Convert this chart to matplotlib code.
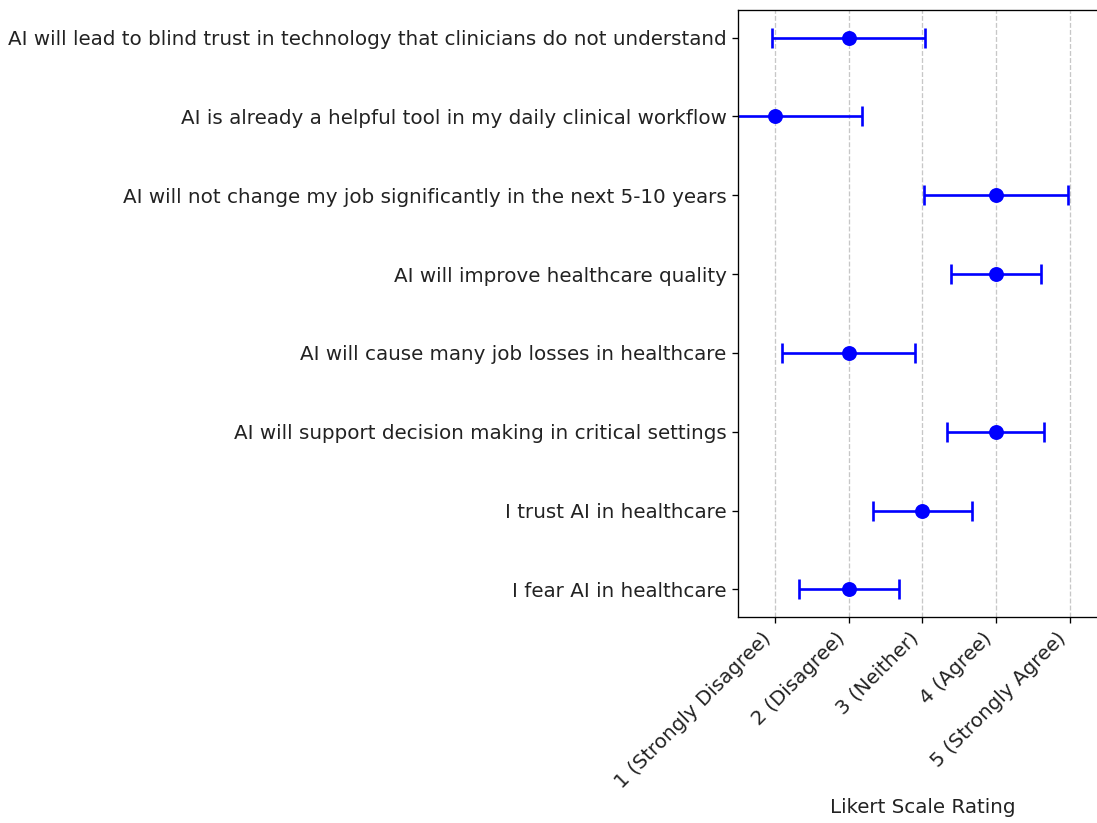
import matplotlib
matplotlib.use("Agg")
import matplotlib.pyplot as plt

statements = [
    "I fear AI in healthcare",
    "I trust AI in healthcare",
    "AI will support decision making in critical settings",
    "AI will cause many job losses in healthcare",
    "AI will improve healthcare quality",
    "AI will not change my job significantly in the next 5-10 years",
    "AI is already a helpful tool in my daily clinical workflow",
    "AI will lead to blind trust in technology that clinicians do not understand",
]
medians = [2, 3, 4, 2, 4, 4, 1, 2]
errors = [0.68, 0.67, 0.66, 0.90, 0.61, 0.98, 1.18, 1.04]
tick_values = [1, 2, 3, 4, 5]
tick_labels = ["1 (Strongly Disagree)", "2 (Disagree)", "3 (Neither)", "4 (Agree)", "5 (Strongly Agree)"]

W, H = 1097, 823
DPI = 119.2
fig = plt.figure(figsize=(W / DPI, H / DPI), dpi=DPI)
left, top, bottom = 738.3, 10, 617
right = 738.3 + 73.6 * 5.0
ax = fig.add_axes([left / W, 1 - bottom / H, (right - left) / W, (bottom - top) / H])

ypos = list(range(len(statements)))
ax.errorbar(medians, ypos, xerr=errors, fmt='o', color='blue', ecolor='blue',
            markersize=8, elinewidth=1.6, capsize=6, capthick=1.6)
ax.set_yticks(ypos)
ax.set_yticklabels(statements, fontsize=12, color='#222222')
ax.set_xticks(tick_values)
ax.set_xticklabels(tick_labels, rotation=45, ha='right', fontsize=12, color='#222222')
ax.set_xlim(0.5, 5.5)
ax.set_xlabel("Likert Scale Rating", fontsize=12, color='#222222')
ax.grid(axis='x', linestyle='--', alpha=0.7)
ax.set_axisbelow(True)

fig.savefig("out.png", dpi=DPI)
